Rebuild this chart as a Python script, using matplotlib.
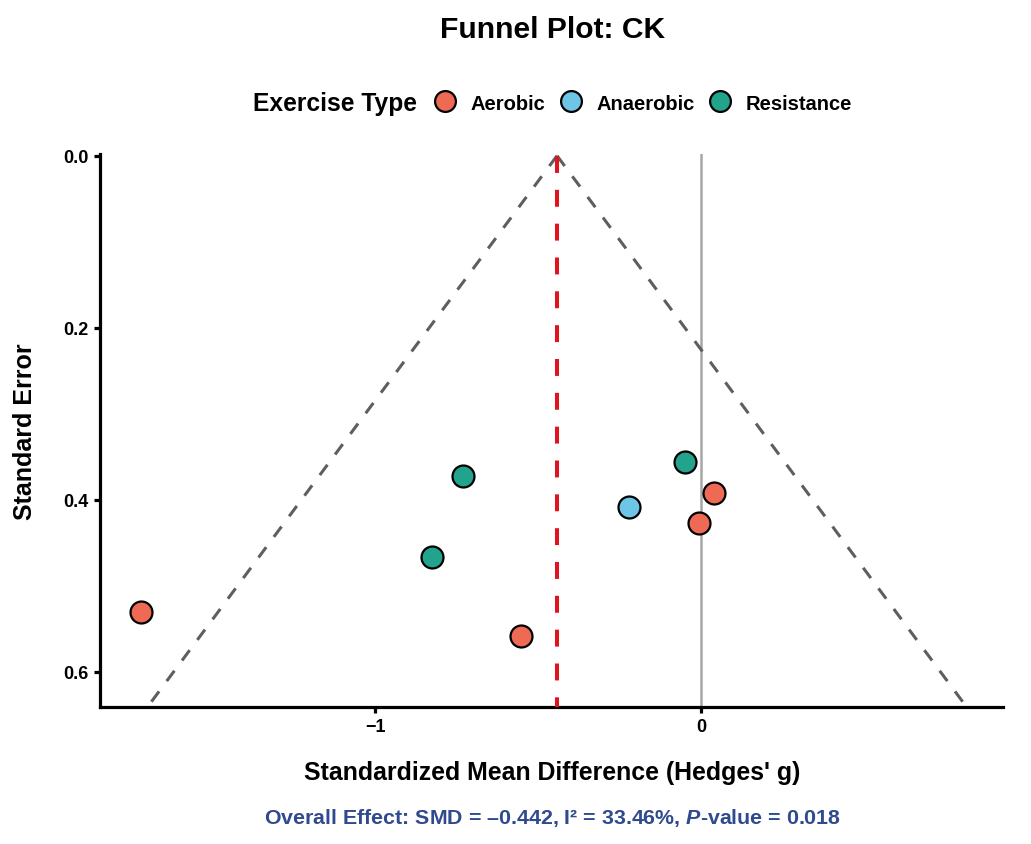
import matplotlib
matplotlib.use("Agg")
import matplotlib.pyplot as plt
from matplotlib.lines import Line2D
import numpy as np

plt.rcParams['font.family'] = ['Liberation Sans', 'DejaVu Sans']
plt.rcParams['mathtext.fontset'] = 'custom'
plt.rcParams['mathtext.it'] = 'Liberation Sans:italic:bold'
plt.rcParams['mathtext.rm'] = 'Liberation Sans:bold'

# Data
exercise_type = ["Aerobic", "Aerobic", "Aerobic", "Aerobic",
                 "Anaerobic",
                 "Resistance", "Resistance", "Resistance"]
smd = [-1.718, -0.552, -0.007, 0.038, -0.221, -0.731, -0.826, -0.051]
se = [0.530, 0.558, 0.427, 0.392, 0.409, 0.372, 0.467, 0.356]
overall_smd = -0.442
i2 = 33.46
p_value = 0.018
categories = ["Aerobic", "Anaerobic", "Resistance"]
colors = {"Aerobic": "#EE6A55", "Anaerobic": "#6EC6E6", "Resistance": "#21A38C"}
x_ticks = [-1, 0]
y_ticks = [0.0, 0.2, 0.4, 0.6]

fig = plt.figure(figsize=(10.31, 8.45), dpi=100)
ax = fig.add_axes([100/1031, 1-708/845, 903/1031, 553/845])

se_max = 0.641
ax.set_xlim(-1.844, 0.926)
ax.set_ylim(se_max, -0.002)

# funnel
se_line = np.array([0.0, se_max])
ax.plot(overall_smd - 1.96*se_line, se_line, color="#5E5E5E", lw=2.2,
        ls=(0, (4.2, 4.2)), zorder=2)
ax.plot(overall_smd + 1.96*se_line, se_line, color="#5E5E5E", lw=2.2,
        ls=(0, (4.2, 4.2)), zorder=2)
ax.axvline(0, color="#A6A6A6", lw=1.8, zorder=1)
ax.plot([overall_smd, overall_smd], [0.0, se_max], color="#E0141E", lw=2.9,
        ls=(0, (4.2, 4.2)), zorder=3)

for cat in categories:
    xs = [x for x, t in zip(smd, exercise_type) if t == cat]
    ys = [y for y, t in zip(se, exercise_type) if t == cat]
    ax.scatter(xs, ys, s=250, color=colors[cat], edgecolor="black",
               linewidth=1.6, zorder=4)

ax.set_xticks(x_ticks)
ax.set_xticklabels(["\u22121", "0"])
ax.set_yticks(y_ticks)
ax.set_yticklabels([f"{v:.1f}" for v in y_ticks])
for side in ["top", "right"]:
    ax.spines[side].set_visible(False)
for side in ["left", "bottom"]:
    ax.spines[side].set_linewidth(2.3)
    ax.spines[side].set_color("black")
ax.tick_params(axis="both", length=4, width=2.3, colors="black",
               labelsize=13, pad=4)
for lab in ax.get_xticklabels() + ax.get_yticklabels():
    lab.set_fontweight("bold")

fig.text(552/1031, 1-773/845, "Standardized Mean Difference (Hedges' g)",
         ha="center", va="center", fontsize=17.9, fontweight="bold")
fig.text(25/1031, 1-432/845, "Standard Error", rotation=90,
         ha="center", va="center", fontsize=18, fontweight="bold")

fig.text(553/1031, 1-30/845, "Funnel Plot: CK", ha="center", va="center",
         fontsize=21.6, fontweight="bold")

# legend
fig.text(253/1031, 1-104/845, "Exercise Type", ha="left", va="center",
         fontsize=17.7, fontweight="bold")
handles = [Line2D([], [], ls="none", marker="o", markersize=15,
                  markerfacecolor=colors[c], markeredgecolor="black",
                  markeredgewidth=1.6) for c in categories]
leg = fig.legend(handles, categories, loc="center left",
                 bbox_to_anchor=(434/1031, 1-104/845), ncol=3, frameon=False,
                 borderaxespad=0, borderpad=0, handlelength=1.1,
                 handletextpad=0.72, columnspacing=0.7,
                 prop={"size": 14.5, "weight": "bold"})

fig.text(552/1031, 1-818/845,
         "Overall Effect: SMD = \u20130.442, I\u00b2 = 33.46%, $P$-value = 0.018",
         ha="center", va="center", fontsize=15.4, fontweight="bold",
         color="#2F4A8E")

fig.savefig("out.png", dpi=100)
